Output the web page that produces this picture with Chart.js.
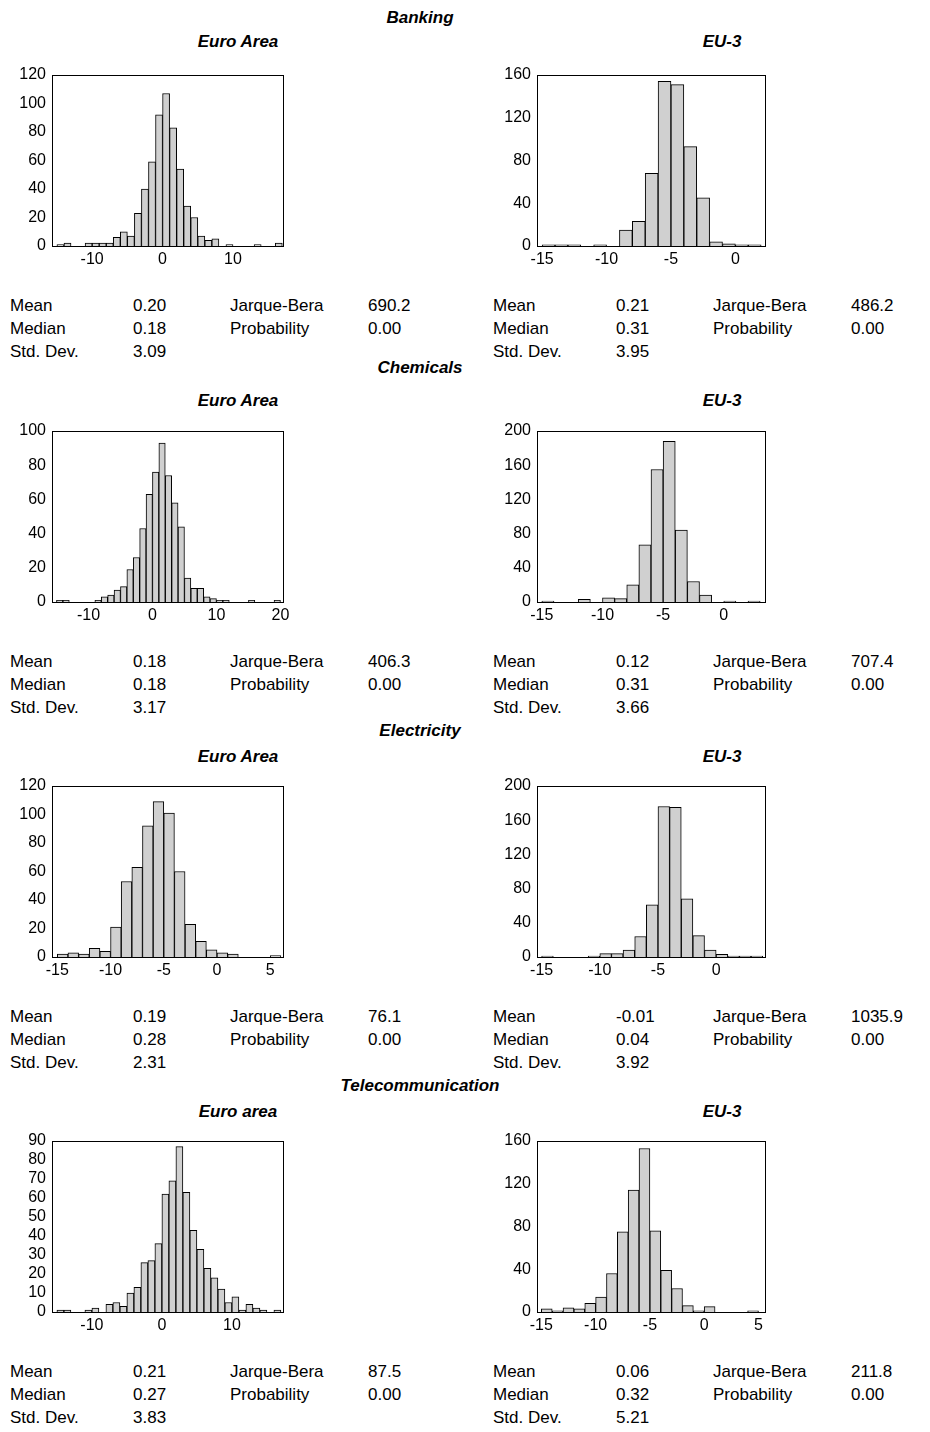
<!DOCTYPE html>
<html>
<head>
<meta charset="utf-8">
<script src="https://cdn.jsdelivr.net/npm/chart.js@4"></script>
<style>
body{margin:0;background:#fff;font-family:"Liberation Sans",Arial,sans-serif;}
#page{position:relative;width:930px;height:1432px;}
.t{position:absolute;font-weight:bold;font-style:italic;font-size:17px;transform:translateX(-50%);white-space:nowrap;}
.s{position:absolute;font-size:17px;line-height:23px;white-space:nowrap;}
.c{position:absolute;}
</style>
</head>
<body>
<div id="page"></div>
<script>
// bin centres (width 1) and counts
var bankEA_x = [-14.5,-13.5,-12.5,-11.5,-10.5,-9.5,-8.5,-7.5,-6.5,-5.5,-4.5,-3.5,-2.5,-1.5,-0.5,0.5,1.5,2.5,3.5,4.5,5.5,6.5,7.5,8.5,9.5,10.5,11.5,12.5,13.5,14.5,15.5,16.5];
var bankEA_y = [1,2,0,0,2,2,2,2,6,10,7,23,40,59,92,107,83,54,28,20,7,4,5,0,1,0,0,0,1,0,0,2];
var bankEU_x = [-14.5,-13.5,-12.5,-11.5,-10.5,-9.5,-8.5,-7.5,-6.5,-5.5,-4.5,-3.5,-2.5,-1.5,-0.5,0.5,1.5];
var bankEU_y = [1,1,1,0,1,0,15,23,68,154,151,93,45,4,2,1,1];
var chemEA_x = [-14.5,-13.5,-12.5,-11.5,-10.5,-9.5,-8.5,-7.5,-6.5,-5.5,-4.5,-3.5,-2.5,-1.5,-0.5,0.5,1.5,2.5,3.5,4.5,5.5,6.5,7.5,8.5,9.5,10.5,11.5,12.5,13.5,14.5,15.5,16.5,17.5,18.5,19.5];
var chemEA_y = [1,1,0,0,0,0,1,3,4,7,9,19,26,43,63,76,93,74,58,44,14,8,8,3,2,1,1,0,0,0,1,0,0,0,1];
var chemEU_x = [-14.5,-13.5,-12.5,-11.5,-10.5,-9.5,-8.5,-7.5,-6.5,-5.5,-4.5,-3.5,-2.5,-1.5,-0.5,0.5,1.5,2.5];
var chemEU_y = [1,0,0,3,0,5,4,20,67,155,188,84,24,8,0,1,0,1];
var elecEA_x = [-14.5,-13.5,-12.5,-11.5,-10.5,-9.5,-8.5,-7.5,-6.5,-5.5,-4.5,-3.5,-2.5,-1.5,-0.5,0.5,1.5,2.5,3.5,4.5,5.5];
var elecEA_y = [2,3,2,6,4,21,53,63,92,109,101,60,23,11,5,3,2,0,0,0,1];
var elecEU_x = [-14.5,-13.5,-12.5,-11.5,-10.5,-9.5,-8.5,-7.5,-6.5,-5.5,-4.5,-3.5,-2.5,-1.5,-0.5,0.5,1.5,2.5,3.5];
var elecEU_y = [1,0,0,0,1,4,4,8,24,61,176,175,68,25,8,3,1,1,1];
var teleEA_x = [-14.5,-13.5,-12.5,-11.5,-10.5,-9.5,-8.5,-7.5,-6.5,-5.5,-4.5,-3.5,-2.5,-1.5,-0.5,0.5,1.5,2.5,3.5,4.5,5.5,6.5,7.5,8.5,9.5,10.5,11.5,12.5,13.5,14.5,15.5,16.5];
var teleEA_y = [1,1,0,0,1,2,0,4,5,3,10,13,26,27,36,62,69,87,63,43,33,23,18,12,5,8,1,4,2,1,0,1];
var teleEU_x = [-14.5,-13.5,-12.5,-11.5,-10.5,-9.5,-8.5,-7.5,-6.5,-5.5,-4.5,-3.5,-2.5,-1.5,-0.5,0.5,1.5,2.5,3.5,4.5];
var teleEU_y = [3,1,4,3,8,14,36,75,114,153,76,39,22,6,1,5,0,0,0,1];

var ticksEA = [-10,0,10];
var ticksEA20 = [-10,0,10,20];
var ticksEU = [-15,-10,-5,0];
var ticksEU5 = [-15,-10,-5,0,5];

var sections = ["Banking","Chemicals","Electricity","Telecommunication"];
var subLeft = ["Euro Area","Euro Area","Euro Area","Euro area"];
var statNames = [["Mean","Median","Std. Dev."],["Jarque-Bera","Probability"]];
var statsEA = [["0.20","0.18","3.09","690.2","0.00"],["0.18","0.18","3.17","406.3","0.00"],["0.19","0.28","2.31","76.1","0.00"],["0.21","0.27","3.83","87.5","0.00"]];
var statsEU = [["0.21","0.31","3.95","486.2","0.00"],["0.12","0.31","3.66","707.4","0.00"],["-0.01","0.04","3.92","1035.9","0.00"],["0.06","0.32","5.21","211.8","0.00"]];

var page = document.getElementById("page");
var titleY = [8,358,721,1076];
var subY = [32,391,747,1102];
var plotTop = [75,431,786,1141];
var statY = [294,650,1005,1360];

function add(cls, txt, x, y){
  var d = document.createElement("div");
  d.className = cls; d.textContent = txt;
  d.style.left = x + "px"; d.style.top = y + "px";
  page.appendChild(d);
  return d;
}

var boxPlugin = {
  id: "box",
  afterDraw: function(c){
    var a = c.chartArea, ctx = c.ctx;
    ctx.save(); ctx.strokeStyle = "#000"; ctx.lineWidth = 1;
    ctx.strokeRect(a.left + 0.5, a.top + 0.5, a.right - a.left, a.bottom - a.top);
    ctx.restore();
  }
};

function makeChart(left, top, w, h, xs, ys, xmin, xmax, xticks, ymax, ystep){
  var d = document.createElement("div");
  d.className = "c";
  d.style.left = (left - 50) + "px"; d.style.top = (top - 10) + "px";
  d.style.width = (w + 58) + "px"; d.style.height = (h + 38) + "px";
  var cv = document.createElement("canvas");
  d.appendChild(cv); page.appendChild(d);
  var pts = [];
  for (var i = 0; i < xs.length; i++) pts.push({x: xs[i], y: ys[i]});
  new Chart(cv, {
    type: "bar",
    data: {datasets: [{data: pts, backgroundColor: "#d0d0d0", borderColor: "#000", borderWidth: 1, barPercentage: 1, categoryPercentage: 1}]},
    options: {
      animation: false, responsive: true, maintainAspectRatio: false,
      layout: {padding: {top: 10, right: 8, left: 0, bottom: 0}},
      plugins: {legend: {display: false}, tooltip: {enabled: false}},
      scales: {
        x: {type: "linear", min: xmin, max: xmax, offset: false,
          grid: {display: false, drawTicks: true, tickLength: 4}, border: {color: "#000"},
          afterBuildTicks: function(s){ s.ticks = xticks.map(function(v){ return {value: v}; }); },
          afterFit: function(s){ s.height = 28; },
          ticks: {color: "#000", font: {family: "Liberation Sans", size: 16}, maxRotation: 0, autoSkip: false, padding: 0}},
        y: {min: 0, max: ymax,
          grid: {display: false, drawTicks: true, tickLength: 4}, border: {color: "#000"},
          afterFit: function(s){ s.width = 50; },
          ticks: {stepSize: ystep, autoSkip: false, color: "#000", font: {family: "Liberation Sans", size: 16, lineHeight: 1}, padding: 2}}
      }
    },
    plugins: [boxPlugin]
  });
}

var charts = [
  [bankEA_x, bankEA_y, -15.7, 17.1, ticksEA, 120, 20, bankEU_x, bankEU_y, -15.4, 2.3, ticksEU, 160, 40],
  [chemEA_x, chemEA_y, -15.7, 20.4, ticksEA20, 100, 20, chemEU_x, chemEU_y, -15.4, 3.4, ticksEU, 200, 40],
  [elecEA_x, elecEA_y, -15.5, 6.2, ticksEU5, 120, 20, elecEU_x, elecEU_y, -15.4, 4.2, ticksEU, 200, 40],
  [teleEA_x, teleEA_y, -15.7, 17.3, ticksEA, 90, 10, teleEU_x, teleEU_y, -15.4, 5.6, ticksEU5, 160, 40]
];

for (var k = 0; k < 4; k++){
  add("t", sections[k], 420, titleY[k]);
  add("t", subLeft[k], 238, subY[k]);
  add("t", "EU-3", 722, subY[k]);
  var c = charts[k];
  makeChart(52, plotTop[k], 231, 171, c[0], c[1], c[2], c[3], c[4], c[5], c[6]);
  makeChart(537, plotTop[k], 228, 171, c[7], c[8], c[9], c[10], c[11], c[12], c[13]);
  var sets = [[statsEA[k], 10], [statsEU[k], 493]];
  for (var j = 0; j < 2; j++){
    var st = sets[j][0], x0 = sets[j][1];
    for (var r = 0; r < 3; r++){
      add("s", statNames[0][r], x0, statY[k] + r * 23);
      add("s", st[r], x0 + 123, statY[k] + r * 23);
    }
    for (var r2 = 0; r2 < 2; r2++){
      add("s", statNames[1][r2], x0 + 220, statY[k] + r2 * 23);
      add("s", st[3 + r2], x0 + 358, statY[k] + r2 * 23);
    }
  }
}
</script>
</body>
</html>
